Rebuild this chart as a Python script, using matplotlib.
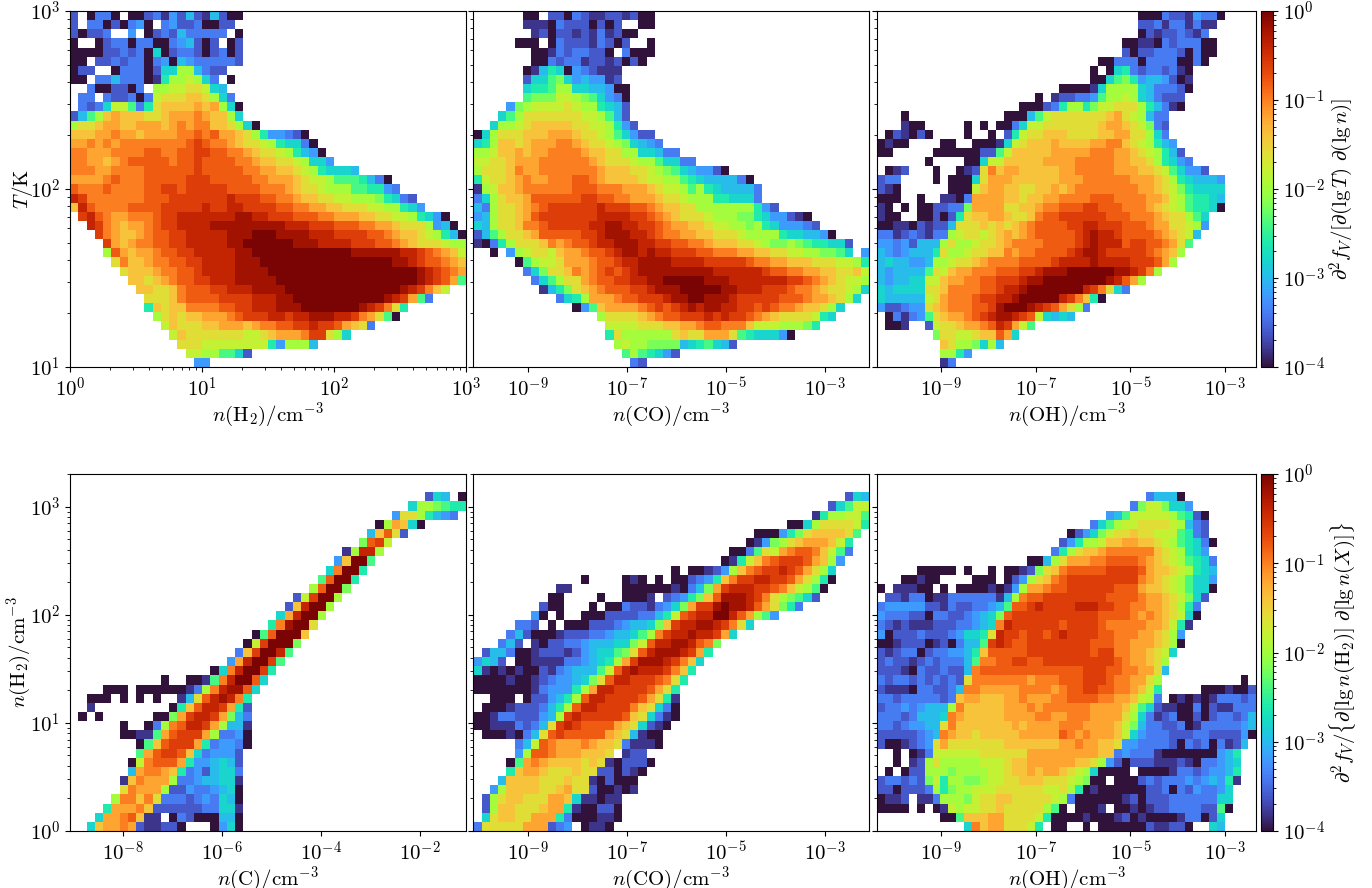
import matplotlib
matplotlib.use("Agg")
import matplotlib.pyplot as plt
import numpy as np
from matplotlib.colors import LogNorm
from matplotlib.ticker import NullLocator

plt.rcParams['mathtext.fontset'] = 'cm'
plt.rcParams['font.family'] = 'serif'
plt.rcParams['font.serif'] = ['DejaVu Serif']
plt.rcParams['font.size'] = 15

# one char per cell: lg(value) = -4 + 0.2*index, blank = nothing there
LEVELS = "0123456789abcdefghijk"

# each row is (first column, cells), top row first
H2_T = [
(0,"2 0330 00231425215200"),
(0,"2 33020340 342230022"),
(0,"20223  4 0232533333 0"),
(0,"0  023303300345202 02"),
(0,"000022323060233202302"),
(0,"00 223233034054333332"),
(0,"022  03330266aa5322"),
(0,"00 335333017aaba63 0"),
(2,"3002203 aabbccb65"),
(1,"33 322303bcccddca63"),
(1,"3236bb837cddddedea60"),
(0,"258adedddccdeeefedda6"),
(0,"accdeeddeeedefeffddca60"),
(0,"dddeefeedeeeeffgfgeedca744320"),
(0,"eefefeffffffffghgffedccba76630"),
(0,"ffeeeffffggffgghhggffedccba7540"),
(0,"ffeedefgggggfgghggggffeddccba664"),
(0,"fffeeffffgggggghgggggffeeddcba76665"),
(0,"eeeefgfffggggghhhgggggffeeedcbba8887530"),
(0,"gfffgffffgghhghhhhhggggfffedccbaaa887743"),
(0,"ihfffffffggghhhhhhhihhhggffeddccbbaaa97632"),
(0,"digffffgggghhhhhihhiihhhhggffeeddcccbbaa764"),
(1,"higfeefffghhiiiiiiijjiihhhgggffeeeddccbba7640"),
(2,"ihfedeefghhiiiijjjjjjjjjiiihhhgggffeedccca450"),
(3,"hfeddefgghhiiiiijjjkkkjjjjiiihhhhggfeddcba750"),
(4,"hedeffgghhiiiiijjkkkkkkjjjiiiihhhggfedcccbaa"),
(4,"agedeefgghhiiiiijjkkkkkkkkkkkkjjjjjjiihgfedb"),
(5,"cfddeffgghhiiiijjjkkkkkkkkkkkkkkkkjjihggfed"),
(6,"cdddeffgghiiiijjjjkkkkkkkkkkkkkkkkkkjihgfe"),
(7,"ddcdefgghhiiijjjjjkkkkkkkkkkkkkkkkkjihge8"),
(8,"ddccdfggghhiiijjjjkkkkkkkkkkkkkkjihfdb"),
(9,"cccdfgggghhhhiiijjkkkkkkkkkkkjihe83"),
(9,"7dcddffffgghhiiijjjkkkkkkkjihfc7"),
(10,"acdcddeeefghhhiihiijjjiihfec80"),
(11,"bdcccddeeedeffgghhihhgedc3"),
(12,"bdcccccccbbcdeeefhhca6"),
(13,"cccbbbbbbbb74aaa5"),
(14,"bbaa8862"),
(15,"44"),
]

CO_T = [
(6,"00 2203211221200"),
(6,"111032220202  00"),
(7,"1202212131200"),
(5,"000 0322213202  0"),
(7,"0013233220 3000"),
(7,"00323312212020"),
(6,"015760432111"),
(6,"266896454412"),
(6,"6778aa6655400"),
(6,"8999bba986430"),
(4,"49abbbbcbaa7652"),
(3,"68acccccccbba852"),
(2,"6aabcdddddccbba742"),
(0,"06acccdddeeedccba86422"),
(0,"67addcdeeeffedccba96543"),
(0,"aabddedeeffffeddccaa66533"),
(0,"bbccdeeeffffffedcccbaa86633"),
(0,"acccdfeefffffffedddccba98654420"),
(0,"7bccdefeefffggfeddddcbbaa876555530"),
(0,"1abddeffffffgggfffeeedcbba8a7655553"),
(0,"36acddegggggghhggffeeedccbaaa776663"),
(0,"53accdefghhhhhhihhhggfeddccaaaaaaa742"),
(0,"45accdeghhhhhhhiiiihhgfedcccbaaa997644210"),
(0,"65accdffghhhhhiijjiihhgfeeddcbbaa9a7644432"),
(0,"258accdeggggghhijjjiihgffeeddcccbaaaa7665540"),
(0,"1037acccdfefgghiijjjiihhggffedddccba99a9877662"),
(2,"0 4abccbdeefgghijjijiihhhggfffeeddccbbaa9986 4"),
(5,"08abbceeefgghiijjjjiiiihhhhhgffeedddcccbba7"),
(6,"369ccdfefghghijjjjjjjjjiiiiiihggffeeddccdb"),
(7,"368accefgghhiijjkkkkkjjjiiiiiiihhgfedcbba"),
(8,"1579cdefggghhijjjkkkkkjjiiihhhgffedccba6"),
(10,"367aeeefgghhhijjkkjjjihhhhhgggfeedca6"),
(12,"048deeeefghghijijjiihhghgffeddca6"),
(15,"accccdefgghhhihihhgfedccccb76"),
(16,"bbbbcccddeefggfffdbbbaaa97"),
(16,"7caaaaaacdcceeec8766640"),
(17,"abaa99995678652"),
(18,"8a87642"),
(19,"32"),
]

OH_T = [
(33,"00032214330"),
(33,"2231331311"),
(33,"021223213"),
(31,"001103233300"),
(31,"202233320300"),
(28,"00333033330030"),
(27,"0 06732332310"),
(27,"0068974554201"),
(23,"000016aaaa6533320"),
(20,"0 1223348aaba653222"),
(18,"000237aa79bbccca75310"),
(3,"0            00058bcccccccdecba533"),
(3,"100     0 0 0036bbcccccccdeedcb932"),
(1,"021020    0  0 27bccdddccccddeecca63"),
(0,"0100    00  00016bcdddeddddeeffdcba754"),
(0,"00     000000228bdddddeeeeefffeedcba752"),
(6,"0    006bbdddddeeeefffffeeddca7643"),
(1,"012   0  012cfdeedddddeefffffeeeddcb86442"),
(0,"233    0 0006ceeeddddddeeeffffffeeedca765554"),
(0,"210      000bdeeddccddedeffffffffeedcb976666"),
(0,"000  0  1103eeeeddcddeeffffgggffffeedba87765"),
(0,"10 0 0022339eeeeccddeffggghhgggfffedcba87760"),
(0,"100  002027cddeedccdfgghhhhhhgggfffedcca86"),
(0,"0011021225cccdcdcdefgggghhiihhhgggfeeccba4"),
(0,"331232133abccbcdedefggggghijiihggggfedcb5"),
(0,"44342555acaabccdeffffgggghijiiighhggfec8"),
(0,"54345557caabccddfeffgggghijjihhhhhgfeda"),
(0,"5655445aabccdeffffgggghiiiijiiiihhhgea"),
(0,"5455558cbdeefffggghhijjjkkkkkkjjihfa"),
(0,"545566bbdeeffgghhhijjkkkkkkkkjigea"),
(0,"656666ccdffffgghiijkkkkkkkihfc63"),
(0,"655555bcefffghhiijkkkkkihfd70"),
(0,"422344cdefffgghjkkkjihgeca3"),
(1,"031348cdeefghijjihgb6565"),
(1,"001  2bccdeefgiheb8"),
(7,"9ccbbcddge6"),
(8,"dcaa96a5"),
(8,"aa74"),
(8,"13"),
]

C_H2 = [
(0,""),
(0,""),
(43,"265 0"),
(41,"6aa9877"),
(39,"4cca7543"),
(37,"0aed60"),
(36,"5dgc2"),
(35,"9ghb"),
(33,"1aiia"),
(32,"4dkk8"),
(31,"6fkk7"),
(30,"8gkk7"),
(29,"agkk9"),
(27,"2bhkka"),
(26,"2dikka"),
(25,"6eikka"),
(24,"7fjkkc"),
(22,"08gkkkd"),
(21,"0bhkkk9"),
(20,"3dhkki8"),
(19,"4eikkh8"),
(17,"06fikkh7"),
(11,"0  0018fikkg6"),
(4,"000 00000013afijjg6"),
(2,"000 0 0 0  15cgijif7"),
(2,"1         07dgiihe72"),
(1,"0 0      009ehiihe953"),
(6,"0  03afgiihea551"),
(6,"00118eghhhea3340"),
(8,"08dghhhe734430"),
(8,"8eghhgd634442"),
(7,"0bfggge7445652"),
(7,"5effed73425663"),
(6,"1dfeeea33455661"),
(6,"cfeeea224334560"),
(5,"affdfc3332343650"),
(4,"7eeefd22222233661"),
(3,"6eefgd11 032000550"),
(2,"6deefe211220   0460"),
]

CO_H2 = [
(0,""),
(0,""),
(45,"265"),
(43,"268bb"),
(41,"17aabb8"),
(38,"006accccb7"),
(34,"000479cddddc8"),
(33,"0149acdeeedb7"),
(31,"0038cbefggfdb83"),
(30,"017bdfghhhgeda4"),
(24,"0 00124adfghhihgeca6"),
(13,"0    010 0 002347dfhhiihhgeca70"),
(10,"11      00000010359ehiiihhgfdba80"),
(9,"00    0  0001 23479dgjjjihfca9862"),
(8,"200   0 0032213469ehhjkjjigec973"),
(7,"40 0  00022223357bghiikkigea84"),
(5,"332 0 000222345569dhiijjihfc6"),
(4,"35200012223345568afhiijiihe6"),
(3,"352 1022334555669bgiijjigf9"),
(1,"255300122212456689cgijjjihe7"),
(0,"4652 001111334567aehjjjihfd6"),
(0,"6101010021345558bgijiiihfd7"),
(0,"000010012344569cgiihhhgfc7"),
(0,"0000000134447aeiihhhhgec7"),
(2,"000 022457agiihhhhgec71"),
(1,"0001222357agiihhhhfdc630"),
(0,"0013322245ahihhhhhgdc6310"),
(0,"001113235chihggggedc6210"),
(1,"0001035cghgggggedc5100"),
(5,"35bgfeeefeddc31110"),
(5,"4aggfeeedddc 122"),
(4,"08efeddddcdc102220"),
(4,"7deedcccdcc220210"),
(3,"5ddddcccdcc102000"),
(2,"4addddccdecc200101"),
(1,"2acddccceed611011"),
(1,"2addcccdee7100220"),
(1,"6cddcceee73000110"),
(0,"3ccccceee234 0110"),
]

OH_H2 = [
(0,""),
(0,""),
(34,"35550"),
(32,"39bb9664"),
(29,"458bbbbba8720"),
(27,"368abbccccba532"),
(24,"02469bccdccbbb8732"),
(23,"247aabddeeddcba87630"),
(22,"37acddeffffffdcba764"),
(19,"005aceeeffggggfedcba8763"),
(5,"00000 0  0 00129cdfggggghhhhgeddcba765"),
(3,"00100    000 024acdfghhhhhhhhhfedcba8664"),
(0,"0 11100 0 00001014aeefgghhhhhhgggeddcba8660"),
(1,"2213301133333315afgghhhhhhhhggggfeedcb962"),
(0,"34444422132233458gghihhhhiiihhggffeedca73"),
(0,"4333220332234569ghhhhhhhhhhhggggfefedcb60"),
(0,"321211122233456fihhhhhhghhhhgfffffeedb71"),
(0,"40222322234667cihhghhghihhhhggfffeedca4"),
(0,"00122201203558hihgghhhhhhhhgggffeeedca0"),
(0,"2123302334457dggggghhhhhhhhghhffeedcb6"),
(0,"2322123233358ffgghhgghhhhhhhhhgfeedca"),
(0,"222103223225fggggggggggggghhhggffeec5"),
(0,"32332323232cfffffffefffggghhhgffeeca          0"),
(0,"21110332235ffeeeeeffffefgghhggffedb7     0001002"),
(0,"3323333323deedddeefeeeffggggffeedba3 01010133323"),
(0,"233434555afdddddeeefeffffffeeeedb862110030211333"),
(0,"333235556fedddddeeeeffeefffeeeeca631230020233235"),
(0,"33234455cfdddddddedeeeefffeeeedb9533223013333345"),
(0,"22222345feddcdddddeeeeegfefeeedb6433322233222240"),
(0,"2001234cecccccccdddddddeefeeddc4433332032303125"),
(2,"0 013bbbbbbcccccceeeeeeeeedd3433310000000457"),
(2,"0 12acaaaaabbbcddeeeeeeddca42022211121033456"),
(1,"0 022aaa9aaaabbcddedeedcba60000 0000133234457"),
(0,"2332329b7aa99abbccdddcccba900 0002323334345471"),
(0,"2202223a79aabbbccccccbbca70100000022303243346"),
(0,"0112 113aaa9bccddcccccba300000012022233333366"),
(0,"0000 0 01babbccdccccca80 0001 001012233332280"),
(8,"008dddeeccccb70000100012010000133026"),
(11,"6fdeecccb7 00  0 000000211220  65"),
]

X_LIMS = [(0, 3), (-10.1, -2.1), (-10.35, -2.34), (-9.07, -1.07), (-10.1, -2.1), (-10.35, -2.34)]
Y_LIMS_TOP = (1, 3)
Y_LIMS_BOTTOM = (0, np.log10(2000))
X_TICKS = [[0, 1, 2, 3], [-9, -7, -5, -3], [-9, -7, -5, -3], [-8, -6, -4, -2], [-9, -7, -5, -3], [-9, -7, -5, -3]]
X_NAMES = [r"$n(\mathrm{H_2})/\mathrm{cm^{-3}}$", r"$n(\mathrm{CO})/\mathrm{cm^{-3}}$", r"$n(\mathrm{OH})/\mathrm{cm^{-3}}$",
           r"$n(\mathrm{C})/\mathrm{cm^{-3}}$", r"$n(\mathrm{CO})/\mathrm{cm^{-3}}$", r"$n(\mathrm{OH})/\mathrm{cm^{-3}}$"]


def to_grid(rows):
    out = np.full((39, 48), np.nan)
    for r, (start, cells) in enumerate(rows):
        for c, ch in enumerate(cells):
            if ch != ' ' and start + c < 48:
                out[r, start + c] = 10 ** (-4 + 0.2 * LEVELS.index(ch))
    return out[::-1]


W, H = 1372.0, 888.0
fig = plt.figure(figsize=(13.72, 8.88), dpi=100)
cols = [(70, 466), (473.3, 869.3), (877.3, 1256.3)]
tops = [(11, 367), (474, 831)]
norm = LogNorm(1e-4, 1)
cmap = plt.get_cmap('turbo')
grids = [H2_T, CO_T, OH_T, C_H2, CO_H2, OH_H2]

for i in range(6):
    x0, x1 = cols[i % 3]
    y0, y1 = tops[i // 3]
    ax = fig.add_axes([x0 / W, 1 - y1 / H, (x1 - x0) / W, (y1 - y0) / H])
    ylim = Y_LIMS_TOP if i < 3 else Y_LIMS_BOTTOM
    xs = np.logspace(X_LIMS[i][0], X_LIMS[i][1], 49)
    ys = np.logspace(ylim[0], ylim[1], 40)
    m = ax.pcolormesh(xs, ys, to_grid(grids[i]), cmap=cmap, norm=norm, shading='flat', antialiased=False)
    ax.set_xscale('log')
    ax.set_yscale('log')
    ax.set_xlim(10.0 ** X_LIMS[i][0], 10.0 ** X_LIMS[i][1])
    ax.set_ylim(10.0 ** ylim[0], 10.0 ** ylim[1])
    ax.set_xticks([10.0 ** t for t in X_TICKS[i]], [r"$10^{%d}$" % t for t in X_TICKS[i]])
    if i != 0:
        ax.xaxis.set_minor_locator(NullLocator())
    yt = [1, 2, 3] if i < 3 else [0, 1, 2, 3]
    ax.set_yticks([10.0 ** t for t in yt])
    if i % 3 == 0:
        ax.set_yticklabels([r"$10^{%d}$" % t for t in yt])
    else:
        ax.set_yticklabels([])
    ax.tick_params(labelsize=15)
    ax.set_xlabel(X_NAMES[i], fontsize=15, labelpad=0)
    if i == 0:
        ax.set_ylabel(r"$T/\mathrm{K}$", fontsize=15, labelpad=-4)
    if i == 3:
        ax.set_ylabel(r"$n(\mathrm{H_2})/\mathrm{cm^{-3}}$", fontsize=15, labelpad=-2)
    if i % 3 == 2:
        cax = fig.add_axes([1261 / W, 1 - y1 / H, 12 / W, (y1 - y0) / H])
        cb = fig.colorbar(m, cax=cax)
        cb.set_ticks([1e-4, 1e-3, 1e-2, 1e-1, 1], labels=[r"$10^{-4}$", r"$10^{-3}$", r"$10^{-2}$", r"$10^{-1}$", r"$10^{0}$"])
        cax.tick_params(labelsize=15)
        if i == 2:
            cb.set_label(r"$\partial^2 f_V/[\partial(\lg T)\ \partial(\lg n)]$", fontsize=15, labelpad=2)
        else:
            cb.set_label(r"$\partial^2 f_V/\{\partial[\lg n(\mathrm{H_2})]\ \partial[\lg n(X)]\}$", fontsize=15, labelpad=2)

fig.savefig("out.png", dpi=100)
